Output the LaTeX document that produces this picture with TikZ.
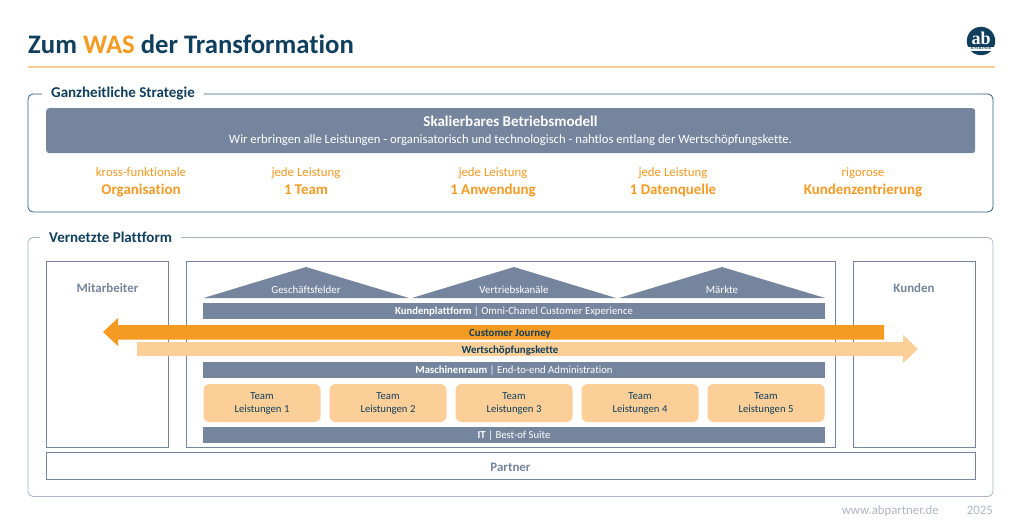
\documentclass[tikz,border=0pt]{standalone}
\usepackage{fontspec}
\setmainfont[Ligatures=CommonOff]{Carlito}
\newfontfamily\logofont{Liberation Serif}
\definecolor{navy}{HTML}{0F3F5C}
\definecolor{slate}{HTML}{76859E}
\definecolor{orng}{HTML}{F59A23}
\definecolor{peach}{HTML}{FCCF99}
\definecolor{pale}{HTML}{A9B7C6}
\definecolor{foot}{HTML}{AEB6C2}
\definecolor{rim}{HTML}{2F5F80}
\tikzset{
 x=1pt,y=-1pt,
 panel/.style={draw=#1,line width=.8pt,rounded corners=5pt,fill=none},
 sectitle/.style={fill=white,text=navy,anchor=base west,inner xsep=9pt,inner ysep=3pt,font=\fontsize{15}{15}\selectfont\bfseries},
 zone/.style={draw=slate,line width=.9pt,fill=white},
 zonelabel/.style={text=slate,anchor=base,inner sep=0pt,font=\fontsize{12.9}{12.9}\selectfont\bfseries},
 bar/.style={fill=slate,text=white,align=center,minimum width=622pt,minimum height=16pt,inner sep=0pt,text height=7.6pt,text depth=0pt,font=\fontsize{10.7}{10.7}\selectfont},
 roof/.style={fill=slate,draw=none},
 rooflabel/.style={text=white,anchor=base,inner sep=0pt,font=\fontsize{10.9}{10.9}\selectfont},
 team/.style={fill=peach,rounded corners=6pt,minimum width=117pt,minimum height=38pt,inner sep=0pt,text=navy,align=center,font=\fontsize{10.7}{13}\selectfont},
 topline/.style={text=orng,anchor=base,inner sep=0pt,font=\fontsize{12.85}{12.85}\selectfont},
 mainline/.style={text=orng,anchor=base,inner sep=0pt,font=\fontsize{14.9}{14.9}\selectfont\bfseries},
 arrowlabel/.style={text=navy,anchor=base,inner sep=0pt,font=\fontsize{10.9}{10.9}\selectfont\bfseries},
 footer/.style={text=foot,anchor=base east,inner sep=0pt,font=\fontsize{12.8}{12.8}\selectfont}
}
\begin{document}
\begin{tikzpicture}
\useasboundingbox (0,0) rectangle (1024,525);
\fill[white] (0,0) rectangle (1024,525);
% header
\node[anchor=base west,inner sep=0pt,text=navy,font=\fontsize{26.7}{26.7}\selectfont\bfseries] (title) at (28,53) {Zum \textcolor{orng}{WAS} der Transformation};
\draw[peach,line width=2pt] (28,66.5) -- (995,66.5);
% logo
\fill[navy] (981,41) circle (14.2);
\node[text=white,inner sep=0pt,anchor=base,font=\fontsize{18}{18}\logofont\bfseries] (logoab) at (981,44) {ab};
\fill[white] (966,47) rectangle (996,50.5);
\node[text=navy,inner sep=0pt,font=\fontsize{3.6}{3.6}\logofont\bfseries] (logopartner) at (981,48.8) {\&\,PARTNER};
% strategy panel
\draw[panel=rim] (28,94) rectangle (993,212);
\node[sectitle] (t1) at (42,97) {Ganzheitliche Strategie};
\node[fill=slate,rounded corners=3pt,minimum width=929pt,minimum height=45pt,anchor=north west,inner sep=0pt] (banner) at (46,108) {};
\node[text=white,anchor=base,font=\fontsize{15}{15}\selectfont\bfseries,inner sep=0pt] (b1) at (510.5,126) {Skalierbares Betriebsmodell};
\node[text=white,anchor=base,font=\fontsize{12.7}{12.7}\selectfont,inner sep=0pt] (b2) at (510.5,143) {Wir erbringen alle Leistungen - organisatorisch und technologisch - nahtlos entlang der Wertschöpfungskette.};
\node[topline] (c1a) at (141,176) {kross-funktionale};
\node[mainline] (c1b) at (141,194) {Organisation};
\node[topline] (c2a) at (306,176) {jede Leistung};
\node[mainline] (c2b) at (306,194) {1 Team};
\node[topline] (c3a) at (493,176) {jede Leistung};
\node[mainline] (c3b) at (493,194) {1 Anwendung};
\node[topline] (c4a) at (673,176) {jede Leistung};
\node[mainline] (c4b) at (673,194) {1 Datenquelle};
\node[topline] (c5a) at (863,176) {rigorose};
\node[mainline] (c5b) at (863,194) {Kundenzentrierung};
% platform panel
\draw[panel=pale] (28,237.5) rectangle (993,496.5);
\node[sectitle] (t2) at (40,242) {Vernetzte Plattform};
\draw[zone] (46.5,261) rectangle (168.5,447);
\draw[zone] (186,261) rectangle (835.5,447);
\draw[zone] (853,261) rectangle (975.5,447);
\draw[zone] (46.5,452) rectangle (975.5,479);
\node[zonelabel] (mit) at (107.5,292) {Mitarbeiter};
\node[zonelabel] (kun) at (914,292) {Kunden};
\node[zonelabel] (par) at (510.5,471) {Partner};
% roofs
\fill[roof] (203.5,298) -- (306,267) -- (409,298) -- cycle;
\fill[roof] (412,298) -- (514,267) -- (616,298) -- cycle;
\fill[roof] (619,298) -- (722,267) -- (825,298) -- cycle;
\node[rooflabel] (r1) at (306,293) {Geschäftsfelder};
\node[rooflabel] (r2) at (514,293) {Vertriebskanäle};
\node[rooflabel] (r3) at (722,293) {Märkte};
% bars
\node[bar] (kp) at (514,311) {\textbf{Kundenplattform} | Omni-Chanel Customer Experience};
\node[bar] (mr) at (514,370) {\textbf{Maschinenraum} | End-to-end Administration};
\node[bar] (it) at (514,435) {\textbf{IT} | Best-of Suite};
% arrows
\fill[peach] (137,342) -- (903,342) -- (903,335) -- (918,349) -- (903,363) -- (903,356) -- (137,356) -- cycle;
\fill[orng] (884,325) -- (118,325) -- (118,318) -- (103,332) -- (118,346) -- (118,339.5) -- (884,339.5) -- cycle;
\node[arrowlabel] (cj) at (510,336) {Customer Journey};
\node[arrowlabel] (wk) at (510,353.2) {Wertschöpfungskette};
% teams
\foreach \n/\cx in {1/262,2/388,3/514,4/640,5/766}{
 \node[team] (team\n) at (\cx,403) {Team\\Leistungen \n};
}
% footer
\node[footer] (web) at (939,514) {www.abpartner.de};
\node[footer] (yr) at (993,514) {2025};
\end{tikzpicture}
\end{document}
